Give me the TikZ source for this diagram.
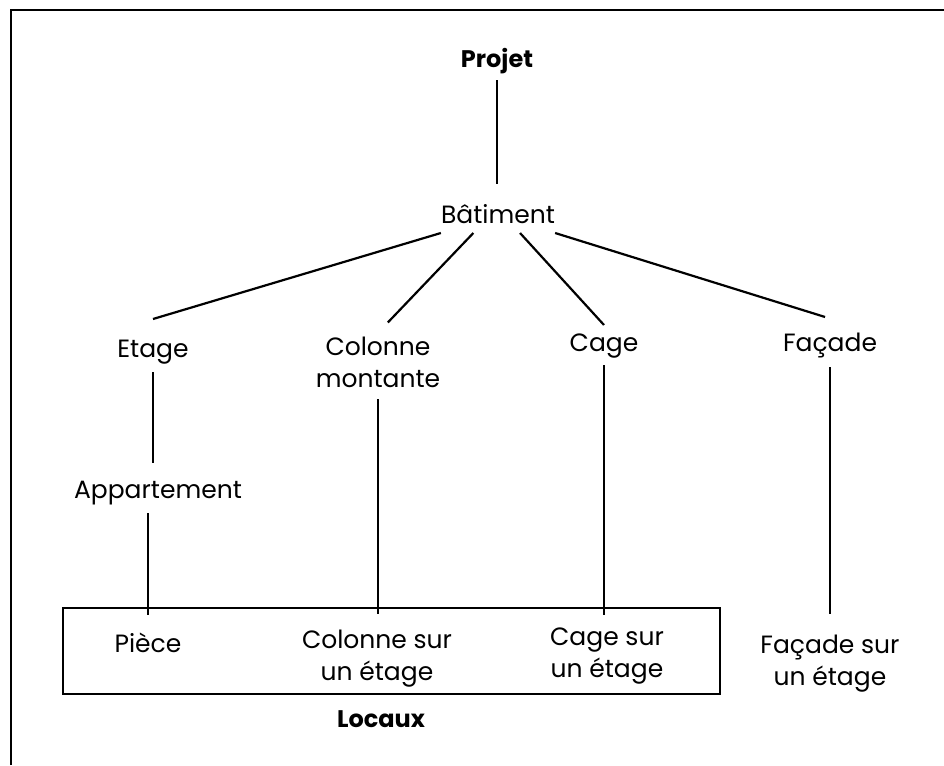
\documentclass[tikz,border=0pt]{standalone}
\usepackage{fontspec}
\setmainfont{Poppins}
\usetikzlibrary{positioning}

\tikzset{
  lbl/.style={inner sep=0pt, anchor=base, text height=18pt, text depth=6pt,
    font=\fontsize{25}{32}\selectfont},
  lbltwo/.style={inner sep=0pt, anchor=base, align=center,
    font=\fontsize{25}{32}\selectfont},
  lblbold/.style={lbl, font=\fontsize{24}{32}\selectfont\bfseries},
  link/.style={line width=2.2pt},
}

\begin{document}
\begin{tikzpicture}[x=1pt,y=-1pt]
\useasboundingbox (0,0) rectangle (944,765);

% page frame (top and left edge only)
\draw[line width=2.8pt] (11,765) -- (11,10) -- (944,10);

% tree
\node[lblbold] (projet) at (497,68) {Projet};
\node[lbl, outer ysep=4pt] (bat) at (498,223) {Bâtiment};

\node[lbl, outer ysep=20pt] (etage) at (153,357) {Etage};
\node[lbltwo, outer ysep=14pt] (colonne) at (378,387) {Colonne\\montante};
\node[lbl, outer ysep=8pt] (cage) at (604,351) {Cage};
\node[lbl, outer ysep=16pt] (facade) at (830,351) {Façade};

\node[lbl] (appart) at (158,498) {Appartement};

\node[lbl] (piece) at (148,652) {Pièce};
\node[lbltwo] (colsur) at (377,680) {Colonne sur\\un étage};
\node[lbltwo] (cagesur) at (607,677) {Cage sur\\un étage};
\node[lbltwo] (facsur) at (830,685) {Façade sur\\un étage};

\node[lblbold] (locaux) at (381,727) {Locaux};

% locaux box
\draw[link] (63,608) rectangle (720,694);

\begin{scope}[link]
    \draw[shorten <=6pt, shorten >=17pt] (projet.south) -- (projet.south |- bat.north);
    \draw (bat.south west) -- (etage.north);
    \draw (bat.-147) -- (colonne.76);
    \draw (bat.-36) -- (cage.north);
    \draw (bat.south east) -- (facade.100);
    \draw[shorten <=-11pt, shorten >=17pt] (etage.south) -- (etage.south |- appart.north);
    \draw[shorten <=9pt, shorten >=19pt] (piece.north |- appart.south) -- (piece.north);
    \draw[shorten <=-2pt, shorten >=15pt] (colonne.south) -- (colonne.south |- colsur.north);
    \draw[shorten >=12pt] (cage.south) -- (cage.south |- cagesur.north);
    \draw[shorten <=-6pt, shorten >=20pt] (facade.south) -- (facade.south |- facsur.north);
\end{scope}
\end{tikzpicture}
\end{document}
